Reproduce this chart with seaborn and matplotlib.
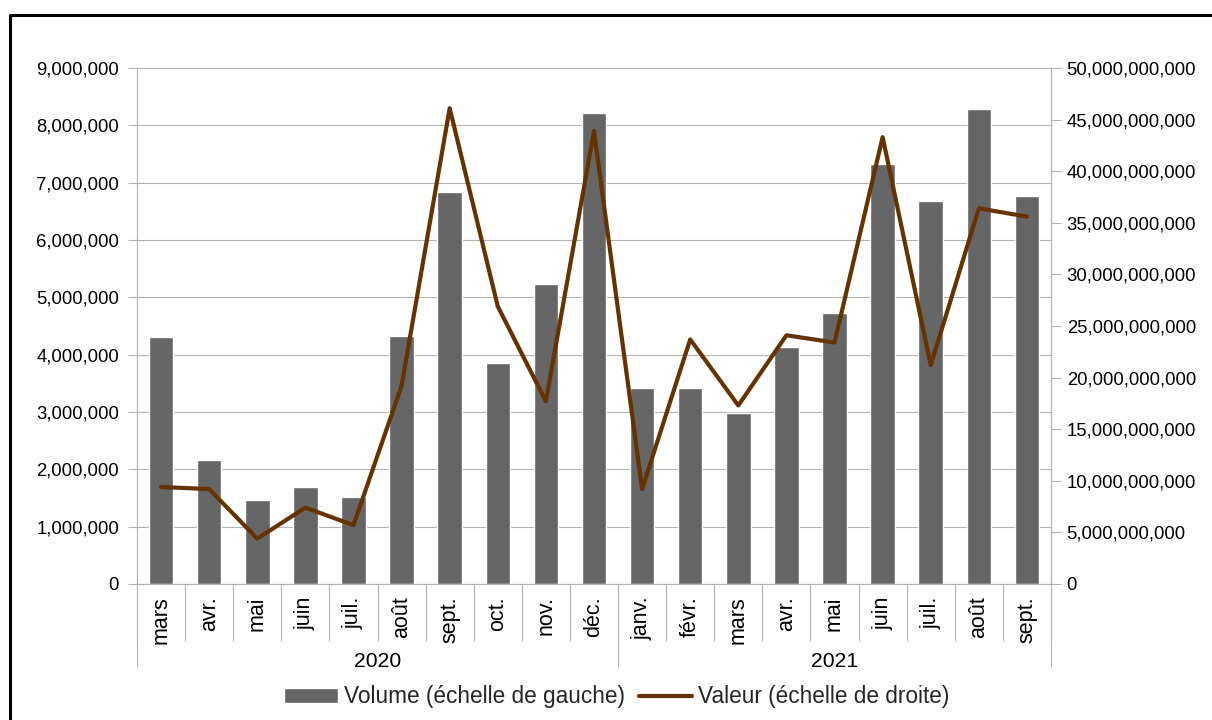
import matplotlib
matplotlib.use("Agg")
import matplotlib.pyplot as plt
import matplotlib.ticker as mticker
import numpy as np
import pandas as pd
import seaborn as sns

# Monthly data, March 2020 -> September 2021
months = ["mars", "avr.", "mai", "juin", "juil.", "août", "sept.", "oct.", "nov.", "déc.",
          "janv.", "févr.", "mars", "avr.", "mai", "juin", "juil.", "août", "sept."]
years = ["2020"] * 10 + ["2021"] * 9
volume = [4300000, 2160000, 1470000, 1700000, 1510000, 4320000, 6830000, 3860000, 5230000, 8220000,
          3410000, 3410000, 2990000, 4130000, 4730000, 7330000, 6680000, 8290000, 6760000]
valeur = [9.4e9, 9.2e9, 4.4e9, 7.4e9, 5.7e9, 19.2e9, 46.1e9, 26.9e9, 17.7e9, 43.9e9,
          9.2e9, 23.7e9, 17.3e9, 24.1e9, 23.4e9, 43.3e9, 21.2e9, 36.4e9, 35.6e9]

BAR_COLOR = "#666666"
LINE_COLOR = "#663300"
GRID = "#b3b3b3"

df = pd.DataFrame({
    "key": [f"{y}-{m}" for y, m in zip(years, months)],
    "month": months,
    "year": years,
    "volume": volume,
    "valeur": valeur,
})
df["pos"] = np.arange(len(df))

sns.set_theme(style="white")
plt.rcParams["font.family"] = ["Liberation Sans", "DejaVu Sans"]
plt.rcParams["font.size"] = 13

fig = plt.figure(figsize=(12.12, 7.2), dpi=100)
ax = fig.add_axes([137 / 1212, 1 - 584 / 720, (1051 - 137) / 1212, (584 - 68) / 720])

sns.barplot(data=df, x="key", y="volume", color=BAR_COLOR, saturation=1,
            width=0.51, ax=ax, label="Volume (échelle de gauche)")
ax2 = ax.twinx()
sns.lineplot(data=df, x="pos", y="valeur", color=LINE_COLOR, linewidth=3.0,
             ax=ax2, label="Valeur (échelle de droite)", legend=False)

n = len(df)
ax.set_xlim(-0.5, n - 0.5)
ax.set_ylim(0, 9000000)
ax2.set_ylim(0, 50e9)
ax.set_yticks(np.arange(0, 9000001, 1000000))
ax2.set_yticks(np.arange(0, 50e9 + 1, 5e9))
fmt = mticker.FuncFormatter(lambda v, p: f"{int(round(v)):,}")
ax.yaxis.set_major_formatter(fmt)
ax2.yaxis.set_major_formatter(fmt)

ax.set_xlabel("")
ax.set_ylabel("")
ax2.set_xlabel("")
ax2.set_ylabel("")

# grid and spines
ax.yaxis.grid(True, color=GRID, linewidth=0.8)
ax.xaxis.grid(False)
ax.set_axisbelow(True)
for a in (ax, ax2):
    a.spines["top"].set_visible(False)
    for s in ("left", "right", "bottom"):
        a.spines[s].set_color(GRID)
        a.spines[s].set_linewidth(0.8)
ax2.grid(False)

ax.tick_params(axis="y", which="major", left=True, length=6.5, width=0.8, color=GRID,
               pad=6.5, labelsize=13.3, labelcolor="black")
ax2.tick_params(axis="y", which="major", right=True, length=7, width=0.8, color=GRID,
                pad=4.3, labelsize=13.3, labelcolor="black")

# month labels and category separators
ax.set_xticks(df["pos"])
ax.set_xticklabels(df["month"], rotation=90)
ax.tick_params(axis="x", which="major", length=0, pad=9, labelsize=15.5, labelcolor="black")
ax.set_xticks(np.arange(-0.5, n, 1), minor=True)
ax.tick_params(axis="x", which="minor", bottom=True, length=41, width=0.8, color=GRID)

# year group level
sec = ax.secondary_xaxis("bottom")
counts = df.groupby("year", sort=False).size()
bounds = np.concatenate([[-0.5], np.cumsum(counts.values) - 0.5])
centers = (bounds[:-1] + bounds[1:]) / 2
sec.set_xticks(bounds)
sec.set_xticklabels([""] * len(bounds))
sec.tick_params(which="major", length=60, width=0.8, color=GRID)
sec.set_xticks(centers, minor=True)
sec.set_xticklabels(counts.index, minor=True)
sec.tick_params(which="minor", length=0, pad=49, labelsize=15.2, labelcolor="black")
sec.spines["bottom"].set_visible(False)

# legend
h1, l1 = ax.get_legend_handles_labels()
h2, l2 = ax2.get_legend_handles_labels()
leg = ax.get_legend()
if leg is not None:
    leg.remove()
fig.legend(h1 + h2, l1 + l2, loc="center", bbox_to_anchor=(617 / 1212, 1 - 697 / 720), ncol=2,
           frameon=False, fontsize=16.3, handlelength=2.35, handleheight=0.6,
           handletextpad=0.27, columnspacing=0.63)

# outer frame
x0, y0 = 10 / 1212, 1 - 15 / 720
fig.add_artist(plt.Line2D([x0, x0, 1.01], [-0.01, y0, y0], transform=fig.transFigure,
                          color="black", linewidth=2.2))

fig.savefig("out.png", dpi=100)
